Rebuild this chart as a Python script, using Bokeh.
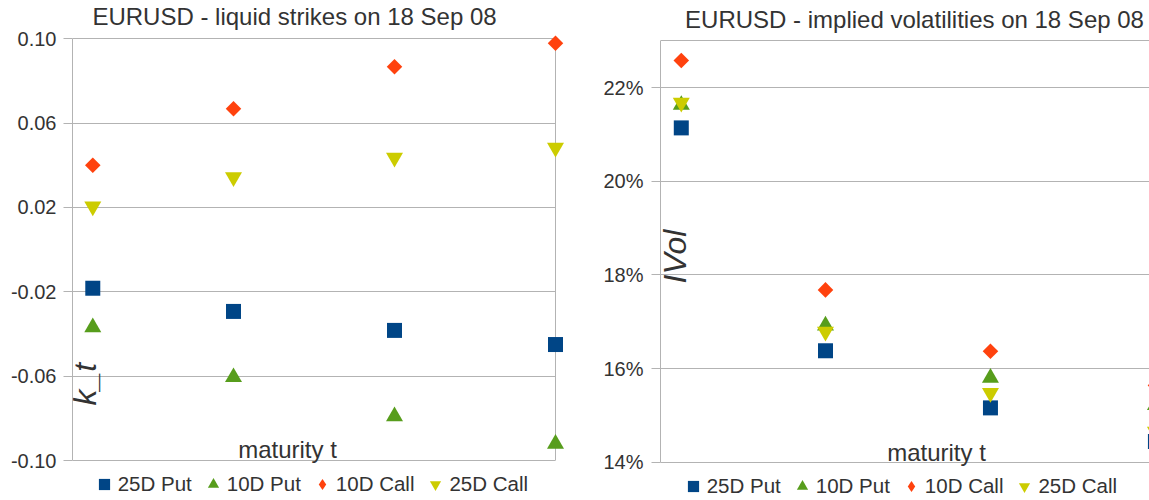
import math
from bokeh.plotting import figure
from bokeh.models import Range1d, FixedTicker, NumeralTickFormatter, Label, Legend, LegendItem, LinearAxis
from bokeh.layouts import row
from bokeh.embed import file_html
from bokeh.resources import INLINE

# ---- data ----
maturity = [0.063, 0.5, 1.0, 1.5]
series_names = ["25D Put", "10D Put", "10D Call", "25D Call"]

strike_25d_put = [-0.0183, -0.0293, -0.0383, -0.0450]
strike_10d_put = [-0.0368, -0.0605, -0.0790, -0.0921]
strike_10d_call = [0.0400, 0.0668, 0.0867, 0.0979]
strike_25d_call = [0.0205, 0.0344, 0.0436, 0.0484]

vol_25d_put = [0.2114, 0.1638, 0.1516, 0.1444]
vol_10d_put = [0.2163, 0.1692, 0.1580, 0.1522]
vol_10d_call = [0.2258, 0.1768, 0.1637, 0.1564]
vol_25d_call = [0.2168, 0.1679, 0.1548, 0.1465]

strike_ticks = [-0.10, -0.06, -0.02, 0.02, 0.06, 0.10]
vol_ticks = [0.14, 0.16, 0.18, 0.20, 0.22]

# ---- styles ----
FONT = "Liberation Sans"
TXT = "#333333"
GRID = "#b3b3b3"
COLORS = ["#004586", "#579d1c", "#ff420e", "#cccc00"]
# (plot marker, size, angle, legend marker)
MARKERS = [("square", 15, 0.0, "square"), ("triangle", 17, 0.0, "triangle"),
           ("square", 11, math.pi / 4, "diamond"), ("inverted_triangle", 17, 0.0, "inverted_triangle")]
H = 500


def make_panel(values, ticks, fmt, x_end, y_lo, y_hi, px_top, px_bottom, width, border_l, border_r,
               right_border, title, title_pos, ylab, ylab_pos, xlab_pos, legend_pos, standoff):
    # the plot area spans the whole figure height; the wall (y_lo..y_hi) sits px_top/px_bottom inside it
    per_px = (y_hi - y_lo) / (H - px_top - px_bottom)
    y_range = Range1d(y_lo - px_bottom * per_px, y_hi + px_top * per_px)
    p = figure(width=width, height=H, output_backend="svg", toolbar_location=None,
               title=None, x_axis_location=None,
               x_range=Range1d(0, x_end), y_range=y_range,
               min_border_left=border_l, min_border_right=border_r, min_border_top=0, min_border_bottom=0)
    p.background_fill_color = "white"
    p.border_fill_color = "white"
    p.outline_line_color = None

    ax = p.yaxis[0]
    ax.ticker = FixedTicker(ticks=ticks)
    ax.bounds = (y_lo, y_hi)
    ax.formatter = NumeralTickFormatter(format=fmt)
    ax.axis_line_color = GRID
    ax.major_tick_line_color = GRID
    ax.major_tick_out = 9
    ax.major_tick_in = 0
    ax.minor_tick_line_color = None
    ax.major_label_text_font = FONT
    ax.major_label_text_font_size = "20px"
    ax.major_label_text_color = TXT
    ax.major_label_standoff = standoff

    if right_border:
        rax = LinearAxis(ticker=FixedTicker(ticks=[]), bounds=(y_lo, y_hi), axis_line_color=GRID,
                         major_tick_line_color=None, minor_tick_line_color=None)
        p.add_layout(rax, "right")

    p.ygrid.ticker = FixedTicker(ticks=sorted(set(ticks + [y_lo, y_hi])))
    p.ygrid.grid_line_color = GRID
    p.xgrid.visible = False

    items = []
    for name, vals, col, (mk, sz, ang, lmk) in zip(series_names, values, COLORS, MARKERS):
        r = p.scatter(maturity, vals, marker=mk, size=sz, angle=ang,
                      fill_color=col, line_color=None, level="overlay")
        if lmk != mk:
            # legend swatch with the un-rotated symbol (legend ignores marker angle)
            r = p.scatter(maturity, vals, marker=lmk, size=sz, fill_color=col,
                          line_color=None, visible=False)
        items.append(LegendItem(label=name, renderers=[r]))

    legend = Legend(items=items, location=legend_pos, orientation="horizontal",
                    glyph_width=28, glyph_height=28, label_standoff=0, spacing=7,
                    padding=0, margin=0, border_line_color=None, background_fill_alpha=0,
                    inactive_fill_alpha=0,
                    label_text_font=FONT, label_text_font_size="20.5px", label_text_color=TXT)
    p.add_layout(legend)

    p.add_layout(Label(x=title_pos[0], y=title_pos[1], x_units="screen", y_units="screen",
                       text=title, text_align="center", text_baseline="alphabetic",
                       text_font=FONT, text_font_size="24px", text_color=TXT))
    p.add_layout(Label(x=ylab_pos[0], y=ylab_pos[1], x_units="screen", y_units="screen",
                       text=ylab, angle=math.pi / 2, text_align="left", text_baseline="alphabetic",
                       text_font=FONT, text_font_size="32px", text_font_style="italic",
                       text_color=TXT))
    p.add_layout(Label(x=xlab_pos[0], y=xlab_pos[1], x_units="screen", y_units="screen",
                       text="maturity t", text_align="center", text_baseline="alphabetic",
                       text_font=FONT, text_font_size="24px", text_color=TXT))
    return p


left = make_panel([strike_25d_put, strike_10d_put, strike_10d_call, strike_25d_call],
                  strike_ticks, "0.00", 1.5, -0.10, 0.10, 38.3, 40, 600, 72, 45, True,
                  "EURUSD - liquid strikes on 18 Sep 08", (222, 484),
                  "k_t", (12, 95), (215, 51), (17.7, 2), 7)

right = make_panel([vol_25d_put, vol_10d_put, vol_10d_call, vol_25d_call],
                   vol_ticks, "0%", 1.482, 0.14, 0.23, 40.3, 38.3, 549, 59, 0, False,
                   "EURUSD - implied volatilities on 18 Sep 08", (254, 481),
                   "IVol", (14, 217), (276, 48), (18.7, 0), 8)

layout = row(left, right)
open("out.html", "w").write(file_html(layout, INLINE))
